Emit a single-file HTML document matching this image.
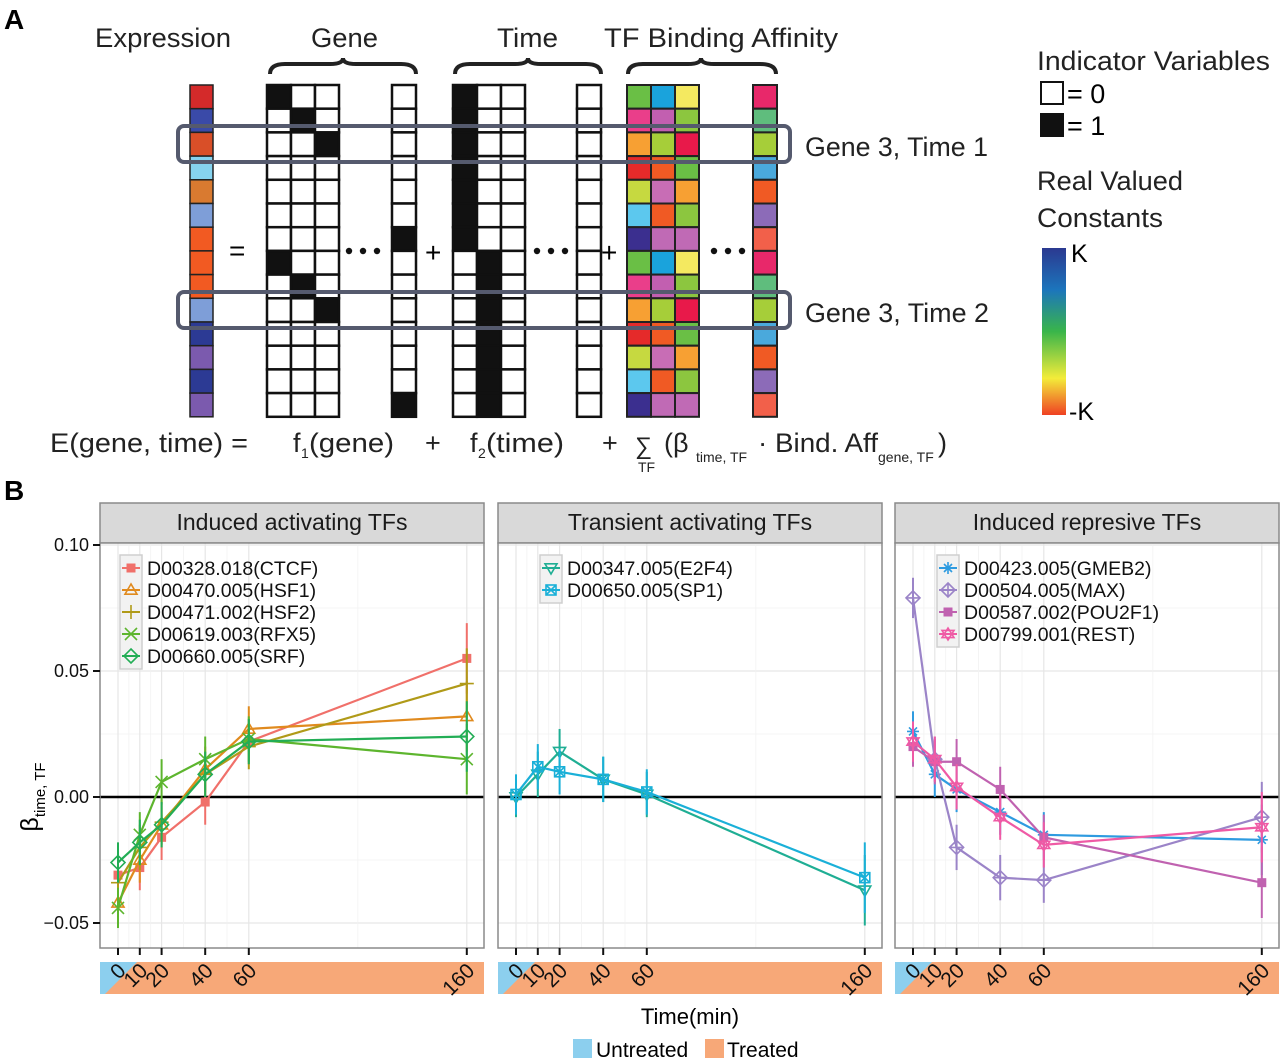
<!DOCTYPE html>
<html><head><meta charset="utf-8"><style>
html,body{margin:0;padding:0;background:#fff;}
svg{display:block;font-family:"Liberation Sans",sans-serif;}
</style></head><body>
<svg id="fig" width="1280" height="1058" viewBox="0 0 1280 1058" xmlns="http://www.w3.org/2000/svg">
<g id="panelA">
<text x="4" y="29" font-size="28" font-weight="bold">A</text>
<text x="95" y="47" font-size="27" textLength="136" lengthAdjust="spacingAndGlyphs" fill="#222">Expression</text>
<text x="311" y="47" font-size="27" textLength="67" lengthAdjust="spacingAndGlyphs" fill="#222">Gene</text>
<text x="497" y="47" font-size="27" textLength="61" lengthAdjust="spacingAndGlyphs" fill="#222">Time</text>
<text x="604" y="47" font-size="27" textLength="234" lengthAdjust="spacingAndGlyphs" fill="#222">TF Binding Affinity</text>
<g fill="none" stroke="#222" stroke-width="4">
<path d="M270 74 Q270 64 285 64 L330 64 Q343 64 343 58 Q343 64 356 64 L401 64 Q416 64 416 74"/>
<path d="M455 74 Q455 64 470 64 L515 64 Q528 64 528 58 Q528 64 541 64 L586 64 Q601 64 601 74"/>
<path d="M628 74 Q628 64 643 64 L688 64 Q701 64 701 58 Q701 64 714 64 L760 64 Q776 64 776 74"/>
</g>
<g id="matrices"></g>
<text x="229" y="260" font-size="28">=</text>
<g fill="#111">
<circle cx="349" cy="251" r="3.2"/><circle cx="363" cy="251" r="3.2"/><circle cx="377" cy="251" r="3.2"/>
<circle cx="537" cy="251" r="3.2"/><circle cx="551" cy="251" r="3.2"/><circle cx="565" cy="251" r="3.2"/>
<circle cx="714" cy="251" r="3.2"/><circle cx="728" cy="251" r="3.2"/><circle cx="742" cy="251" r="3.2"/>
</g>
<text x="425" y="262" font-size="28">+</text>
<text x="601" y="262" font-size="28">+</text>
<rect x="178" y="126" width="612" height="36" rx="6" fill="none" stroke="#555a6e" stroke-width="4"/>
<rect x="178" y="292" width="612" height="36" rx="6" fill="none" stroke="#555a6e" stroke-width="4"/>
<text x="805" y="156" font-size="27" textLength="183" lengthAdjust="spacingAndGlyphs" fill="#222">Gene 3, Time 1</text>
<text x="805" y="322" font-size="27" textLength="184" lengthAdjust="spacingAndGlyphs" fill="#222">Gene 3, Time 2</text>
<text x="1037" y="70" font-size="27" textLength="233" lengthAdjust="spacingAndGlyphs" fill="#222">Indicator Variables</text>
<rect x="1041" y="82" width="22" height="22" fill="#fff" stroke="#111" stroke-width="2"/>
<text x="1067" y="103" font-size="27">= 0</text>
<rect x="1041" y="114" width="22" height="22" fill="#111" stroke="#111" stroke-width="2"/>
<text x="1067" y="135" font-size="27">= 1</text>
<text x="1037" y="190" font-size="27" textLength="146" lengthAdjust="spacingAndGlyphs" fill="#222">Real Valued</text>
<text x="1037" y="227" font-size="27" textLength="126" lengthAdjust="spacingAndGlyphs" fill="#222">Constants</text>
<defs><linearGradient id="grad" x1="0" y1="0" x2="0" y2="1">
<stop offset="0" stop-color="#2b3990"/><stop offset="0.25" stop-color="#1c75bc"/><stop offset="0.5" stop-color="#39b54a"/><stop offset="0.78" stop-color="#f3ec3a"/><stop offset="1" stop-color="#ef4123"/></linearGradient></defs>
<rect x="1042" y="248" width="24" height="167" fill="url(#grad)"/>
<text x="1071" y="262" font-size="25">K</text>
<text x="1069" y="420" font-size="25">-K</text>
<g font-size="27" fill="#222">
<text x="50" y="452" textLength="198" lengthAdjust="spacingAndGlyphs">E(gene, time) =</text>
<text x="293" y="452">f</text><text x="301" y="458" font-size="14">1</text><text x="309" y="452" textLength="85" lengthAdjust="spacingAndGlyphs">(gene)</text>
<text x="425" y="452">+</text>
<text x="470" y="452">f</text><text x="478" y="458" font-size="14">2</text><text x="486" y="452" textLength="78" lengthAdjust="spacingAndGlyphs">(time)</text>
<text x="602" y="452">+</text>
<text x="635" y="454" font-size="24">∑</text><text x="638" y="472" font-size="14">TF</text>
<text x="664" y="452">(β</text><text x="696" y="462" font-size="14">time, TF</text>
<text x="758" y="452" textLength="120" lengthAdjust="spacingAndGlyphs">· Bind. Aff</text><text x="878" y="462" font-size="14">gene, TF</text>
<text x="938" y="452">)</text>
</g>
</g>
<g id="panelB">
<text x="4" y="500" font-size="28" font-weight="bold">B</text>
<text transform="translate(38,797) rotate(-90)" text-anchor="middle" font-size="25">β<tspan font-size="15" dy="7">time, TF</tspan></text>
<g id="charts"></g>
<text x="690" y="1024" text-anchor="middle" font-size="22">Time(min)</text>
<rect x="573" y="1039" width="19" height="19" fill="#8ccfee"/>
<text x="596" y="1057" font-size="21">Untreated</text>
<rect x="705" y="1039" width="19" height="19" fill="#f7a878"/>
<text x="727" y="1057" font-size="21">Treated</text>
</g>
</svg>
<script>
// ---- Panel A matrix data ----
const exprColors = ["#d42a2a","#3a4aa8","#d94f28","#86d3ef","#d97a30","#7e9ed8","#f25a22","#f25a22","#f25a22","#7e9ed8","#2c3a94","#7b5aae","#2c3a94","#7b5aae"];
const tfColorsA = [["#6abf45","#1aa3dc","#f4e960"],["#ea3e8a","#c25fb0","#8cc63f"],["#f7a033","#a6ce39","#e8194a"],["#e52a2a","#f05a24","#6abf45"],["#c6d940","#c86db5","#f7a033"],["#5cc8ee","#f05a24","#8cc63f"],["#3b2f8f","#c06ab5","#c06ab5"]];
const tfLastCol = ["#e8286a","#5fbd7d","#a6ce39","#4aa9dc","#f05a24","#8c6bb8","#f2604a"];

// ---- Panel B chart data ----
const times = [0,10,20,40,60,160];
const panelTitles = ["Induced activating TFs","Transient activating TFs","Induced represive TFs"];
const yTicks = [0.10,0.05,0.00,-0.05];
const yTickLabels = ["0.10","0.05","0.00","\u22120.05"];
const xTickLabels = ["0","10","20","40","60","160"];
const p1Names = ["D00328.018(CTCF)","D00470.005(HSF1)","D00471.002(HSF2)","D00619.003(RFX5)","D00660.005(SRF)"];
const ctcf = [-0.031,-0.028,-0.016,-0.002,0.022,0.055];
const hsf1 = [-0.042,-0.025,-0.011,0.011,0.027,0.032];
const hsf2 = [-0.034,-0.020,-0.010,0.009,0.020,0.045];
const rfx5 = [-0.044,-0.015,0.006,0.015,0.023,0.015];
const srf  = [-0.026,-0.018,-0.011,0.009,0.022,0.024];
const p2Names = ["D00347.005(E2F4)","D00650.005(SP1)"];
const e2f4 = [0.000,0.009,0.018,0.007,0.001,-0.037];
const sp1  = [0.001,0.012,0.010,0.007,0.002,-0.032];
const p3Names = ["D00423.005(GMEB2)","D00504.005(MAX)","D00587.002(POU2F1)","D00799.001(REST)"];
const gmeb2  = [0.026,0.009,0.003,-0.006,-0.015,-0.017];
const maxTF  = [0.079,0.015,-0.020,-0.032,-0.033,-0.008];
const pou2f1 = [0.020,0.014,0.014,0.003,-0.016,-0.034];
const rest   = [0.022,0.015,0.004,-0.008,-0.019,-0.012];
const errs = [0.008,0.009,0.009,0.009,0.009,0.014];

const NS="http://www.w3.org/2000/svg";
function mk(tag, attrs, parent){const e=document.createElementNS(NS,tag);for(const k in attrs)e.setAttribute(k,attrs[k]);parent.appendChild(e);return e;}

// Panel A matrices
const M=document.getElementById("matrices");
const top0=85, rh=23.7, cw=24;
for(let r=0;r<14;r++){
  const y=top0+r*rh;
  const c=mk("rect",{x:190,y:y,width:23,height:rh,fill:exprColors[r],stroke:"#222","stroke-width":1.5},M);
  
  
  const g=r%7;
  for(let j=0;j<3;j++){
    const black=(g===j && g<3);
    const gc=mk("rect",{x:267+j*cw,y:y,width:cw,height:rh,fill:black?"#111":"#fff",stroke:"#111","stroke-width":2.5},M);
    
    
    const tb=(r<7&&j===0)||(r>=7&&j===1);
    const tc=mk("rect",{x:453+j*cw,y:y,width:cw,height:rh,fill:tb?"#111":"#fff",stroke:"#111","stroke-width":2.5},M);
    
    
    const fc=mk("rect",{x:627+j*cw,y:y,width:cw,height:rh,fill:tfColorsA[g][j],stroke:"#222","stroke-width":2},M);
    
    
  }
  const ge=mk("rect",{x:392,y:y,width:cw,height:rh,fill:(r===6||r===13)?"#111":"#fff",stroke:"#111","stroke-width":2.5},M);
  
  
  const te=mk("rect",{x:577,y:y,width:cw,height:rh,fill:"#fff",stroke:"#111","stroke-width":2.5},M);
  
  
  const fe=mk("rect",{x:753,y:y,width:cw,height:rh,fill:tfLastCol[g],stroke:"#222","stroke-width":2},M);
  
  
}

// Panel B charts
const C=document.getElementById("charts");
const panelsX=[100,498,895], pw=384, plotTop=543, plotBot=948;
const legendOffsets=[20,42,42];
function yS(v){return 797-v*2520;}
function xS(p,t){return panelsX[p]+18+t*2.18;}

function marker(g,shape,x,y,col){
  const s=6;
  const a={fill:"none",stroke:col,"stroke-width":1.6};
  switch(shape){
    case "sq": mk("rect",{x:x-4.5,y:y-4.5,width:9,height:9,fill:col},g);break;
    case "tri": mk("polygon",{points:`${x},${y-s} ${x-s},${y+s*0.7} ${x+s},${y+s*0.7}`,...a},g);break;
    case "itri": mk("polygon",{points:`${x},${y+s} ${x-s},${y-s*0.7} ${x+s},${y-s*0.7}`,...a},g);break;
    case "plus": mk("path",{d:`M${x-s-1} ${y}H${x+s+1}M${x} ${y-s-1}V${y+s+1}`,...a},g);break;
    case "x": mk("path",{d:`M${x-s} ${y-s}L${x+s} ${y+s}M${x-s} ${y+s}L${x+s} ${y-s}`,...a},g);break;
    case "dia": mk("polygon",{points:`${x},${y-s-1} ${x+s+1},${y} ${x},${y+s+1} ${x-s-1},${y}`,...a},g);break;
    case "diap": mk("polygon",{points:`${x},${y-s-1} ${x+s+1},${y} ${x},${y+s+1} ${x-s-1},${y}`,...a},g);mk("path",{d:`M${x-s} ${y}H${x+s}M${x} ${y-s}V${y+s}`,...a},g);break;
    case "sqx": mk("rect",{x:x-5,y:y-5,width:10,height:10,...a},g);mk("path",{d:`M${x-5} ${y-5}L${x+5} ${y+5}M${x-5} ${y+5}L${x+5} ${y-5}`,...a},g);break;
    case "ast": mk("path",{d:`M${x-s} ${y}H${x+s}M${x} ${y-s}V${y+s}M${x-4} ${y-4}L${x+4} ${y+4}M${x-4} ${y+4}L${x+4} ${y-4}`,...a},g);break;
    case "star": mk("polygon",{points:`${x},${y-s} ${x-s},${y+s*0.6} ${x+s},${y+s*0.6}`,...a},g);mk("polygon",{points:`${x},${y+s} ${x-s},${y-s*0.6} ${x+s},${y-s*0.6}`,...a},g);break;
  }
}

const panels=[
  {names:p1Names,series:[ctcf,hsf1,hsf2,rfx5,srf],colors:["#f0706a","#e08a1e","#b09a18","#5db52e","#22ad55"],shapes:["sq","tri","plus","x","dia"],keys:["ctcf","hsf1","hsf2","rfx5","srf"]},
  {names:p2Names,series:[e2f4,sp1],colors:["#1fae94","#1ab0d8"],shapes:["itri","sqx"],keys:["e2f4","sp1"]},
  {names:p3Names,series:[gmeb2,maxTF,pou2f1,rest],colors:["#2e9be0","#9b84c8","#c062b0","#ef5aa5"],shapes:["ast","diap","sq","star"],keys:["gmeb2","max","pou2f1","rest"]}
];

panels.forEach((P,p)=>{
  const L=panelsX[p];
  const g=mk("g",{},C);
  
  
  const strip=mk("rect",{x:L,y:503,width:pw,height:40,fill:"#d9d9d9",stroke:"#8a8a8a","stroke-width":1.5},g);
  
  
  const st=mk("text",{x:L+pw/2,y:530,"text-anchor":"middle","font-size":23,fill:"#1a1a1a"},g);
  st.textContent=panelTitles[p];
  
  
  mk("rect",{x:L,y:plotTop,width:pw,height:plotBot-plotTop,fill:"#fff"},g);
  for(let i=0;i<yTicks.length;i++){
    mk("line",{x1:L,x2:L+pw,y1:yS(yTicks[i]),y2:yS(yTicks[i]),stroke:"#e6e6e6","stroke-width":1.2},g);
    mk("line",{x1:L,x2:L+pw,y1:yS(yTicks[i]-0.025),y2:yS(yTicks[i]-0.025),stroke:"#f2f2f2","stroke-width":0.8},g);
  }
  for(let i=0;i<times.length;i++){
    mk("line",{x1:xS(p,times[i]),x2:xS(p,times[i]),y1:plotTop,y2:plotBot,stroke:"#e6e6e6","stroke-width":1.2},g);
    if(i<times.length-1){const m=(times[i]+times[i+1])/2;mk("line",{x1:xS(p,m),x2:xS(p,m),y1:plotTop,y2:plotBot,stroke:"#f2f2f2","stroke-width":0.8},g);}
  }
  const zl=mk("line",{x1:L,x2:L+pw,y1:yS(0),y2:yS(0),stroke:"#000","stroke-width":2.5},g);
  
  
  const fr=mk("rect",{x:L,y:plotTop,width:pw,height:plotBot-plotTop,fill:"none",stroke:"#8a8a8a","stroke-width":1.5},g);
  
  
  P.series.forEach((vals,si)=>{
    const col=P.colors[si];
    const sg=mk("g",{},g);
    
    
    vals.forEach((v,i)=>{
      const eb=mk("line",{x1:xS(p,times[i]),x2:xS(p,times[i]),y1:yS(v+errs[i]),y2:yS(v-errs[i]),stroke:col,"stroke-width":2},sg);
      
      
    });
    const pts=vals.map((v,i)=>xS(p,times[i])+","+yS(v)).join(" ");
    const ln=mk("polyline",{points:pts,fill:"none",stroke:col,"stroke-width":2.2},sg);
    
    
    vals.forEach((v,i)=>{
      const mg=mk("g",{},sg);
      
      
      marker(mg,P.shapes[si],xS(p,times[i]),yS(v),col);
    });
  });
  const lx=L+legendOffsets[p], ly=555, lh=22;
  const lg=mk("g",{},g);
  
  
  mk("rect",{x:lx,y:ly,width:22,height:lh*P.names.length+4,fill:"#f2f2f2",stroke:"#cfcfcf","stroke-width":1.5},lg);
  P.names.forEach((nm,si)=>{
    const cy=ly+13+si*lh;
    const e=mk("g",{},lg);
    
    
    mk("line",{x1:lx+2,x2:lx+20,y1:cy,y2:cy,stroke:P.colors[si],"stroke-width":2},e);
    marker(e,P.shapes[si],lx+11,cy,P.colors[si]);
    const t=mk("text",{x:lx+27,y:cy+7,"font-size":19.5,fill:"#111"},e);
    t.textContent=nm;
  });
  const bar=mk("rect",{x:L,y:962,width:pw,height:32,fill:"#f7a878"},g);
  
  
  const ub=mk("polygon",{points:`${L},962 ${L+37},962 ${L+5},994 ${L},994`,fill:"#8ccfee"},g);
  
  
  times.forEach((t,i)=>{
    const x=xS(p,t);
    mk("line",{x1:x,x2:x,y1:plotBot,y2:plotBot+7,stroke:"#111","stroke-width":2},g);
    const tl=mk("text",{transform:`translate(${x+9},${972}) rotate(-45)`,"text-anchor":"end","font-size":21,fill:"#111"},g);
    tl.textContent=xTickLabels[i];
    
    
  });
});
yTicks.forEach((v,i)=>{
  mk("line",{x1:93,x2:100,y1:yS(v),y2:yS(v),stroke:"#111","stroke-width":2},C);
  const t=mk("text",{x:89,y:yS(v)+6,"text-anchor":"end","font-size":18,fill:"#111"},C);
  t.textContent=yTickLabels[i];
  
  
});
</script>
</body></html>
